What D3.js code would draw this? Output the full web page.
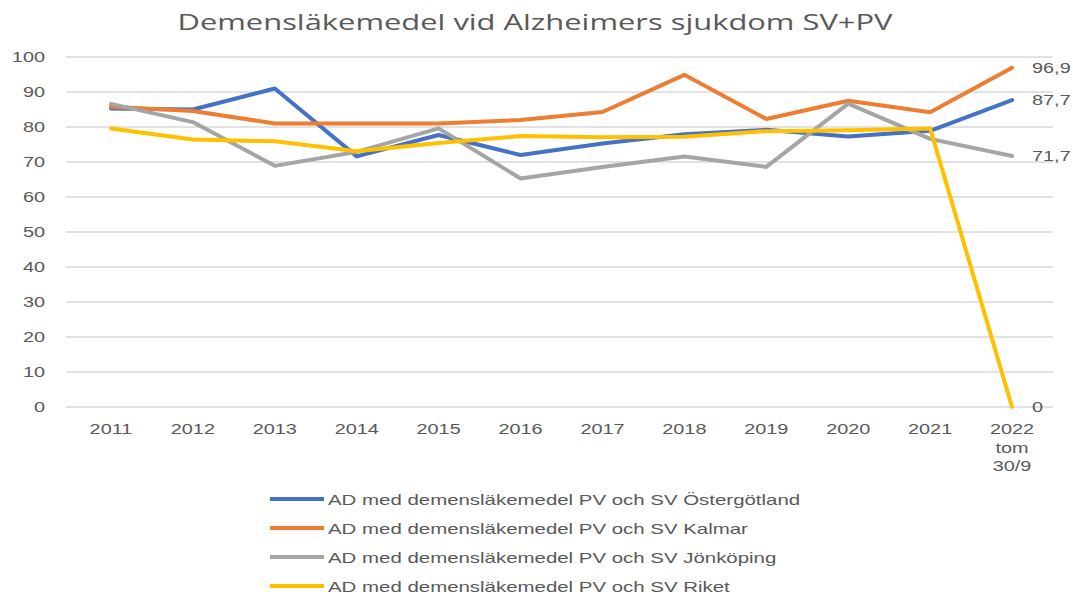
<!DOCTYPE html>
<html><head><meta charset="utf-8">
<script src="https://cdn.jsdelivr.net/npm/d3@7/dist/d3.min.js"></script>
<style>body{margin:0;background:#fff;}svg{display:block;}</style>
</head><body>
<svg id="c" width="1073" height="592"></svg>
<script>
const categories = ["2011","2012","2013","2014","2015","2016","2017","2018","2019","2020","2021","2022\ntom\n30/9"];
const ostergotland = [85.3,85.0,91.0,71.6,77.7,72.0,75.3,77.9,79.2,77.3,78.9,87.7];
const kalmar = [85.8,84.6,81.0,81.0,81.0,82.0,84.3,94.9,82.3,87.5,84.2,96.9];
const jonkoping = [86.6,81.4,68.9,72.9,79.6,65.3,68.6,71.6,68.6,86.7,76.6,71.7];
const riket = [79.6,76.4,75.9,73.1,75.4,77.4,77.1,77.2,78.8,79.1,79.6,0];
const yTicks = [0,10,20,30,40,50,60,70,80,90,100];
const seriesNames = ["AD med demensläkemedel PV och SV Östergötland","AD med demensläkemedel PV och SV Kalmar","AD med demensläkemedel PV och SV Jönköping","AD med demensläkemedel PV och SV Riket"];
const seriesValues = [ostergotland, kalmar, jonkoping, riket];
const colors = ["#4472C4","#ED7D31","#A5A5A5","#FFC000"];
const title = "Demensläkemedel vid Alzheimers sjukdom SV+PV";

const svg = d3.select("#c");
const x = d3.scaleBand().domain(categories).range([70,1053]);
const y = d3.scaleLinear().domain([0,100]).range([407,57]);
const cx = c => x(c) + x.bandwidth()/2;
const textCol = "#595959";
const font = "Liberation Sans, Arial, sans-serif";
const S = 1.37; // horizontal stretch of text seen in the reference

function stext(parent, px, py, str, size, anchor, sx){
  const g = parent.append("g").attr("transform",`translate(${px},${py}) scale(${sx||S},1)`);
  return g.append("text").attr("x",0).attr("y",0).attr("text-anchor",anchor||"start")
    .attr("font-family",font).attr("font-size",size).attr("fill",textCol).text(str);
}

svg.append("text").attr("x",535).attr("y",30).attr("text-anchor","middle")
  .attr("font-family","Open Sans, sans-serif").attr("font-size",21).attr("fill",textCol)
  .attr("textLength",715).attr("lengthAdjust","spacingAndGlyphs").text(title);

// grid
svg.append("g").selectAll("line").data(yTicks).join("line")
  .attr("x1",66).attr("x2",1053).attr("y1",d=>y(d)).attr("y2",d=>y(d))
  .attr("stroke","#D9D9D9").attr("stroke-width",1.3);

// y axis labels
const ya = svg.append("g");
yTicks.forEach(d=>stext(ya, 45, y(d)+4.5, d, 14.5, "end"));

// x axis labels
const xa = svg.append("g");
categories.forEach(c=>{
  c.split("\n").forEach((p,i)=>stext(xa, cx(c), 434 + i*18.5, p, 14.5, "middle"));
});

// lines
const line = d3.line().x((v,i)=>cx(categories[i])).y(v=>y(v));
seriesValues.forEach((vals,k)=>{
  svg.append("path").datum(vals).attr("d",line).attr("fill","none")
    .attr("stroke",colors[k]).attr("stroke-width",4).attr("stroke-linejoin","round").attr("stroke-linecap","round");
});

// data labels on last point
const last = categories.length-1;
const dl = svg.append("g");
seriesValues.forEach((vals,k)=>{
  const v = vals[last];
  stext(dl, cx(categories[last])+20, y(v)+5, String(v).replace(".",","), 14.5, "start");
});

// legend
const lg = svg.append("g");
seriesNames.forEach((n,k)=>{
  const ly = 499 + k*29;
  lg.append("line").attr("x1",270).attr("x2",324).attr("y1",ly).attr("y2",ly)
    .attr("stroke",colors[k]).attr("stroke-width",4);
  stext(lg, 328, ly+5.5, n, 14, "start", 1.46);
});
</script>
</body></html>
